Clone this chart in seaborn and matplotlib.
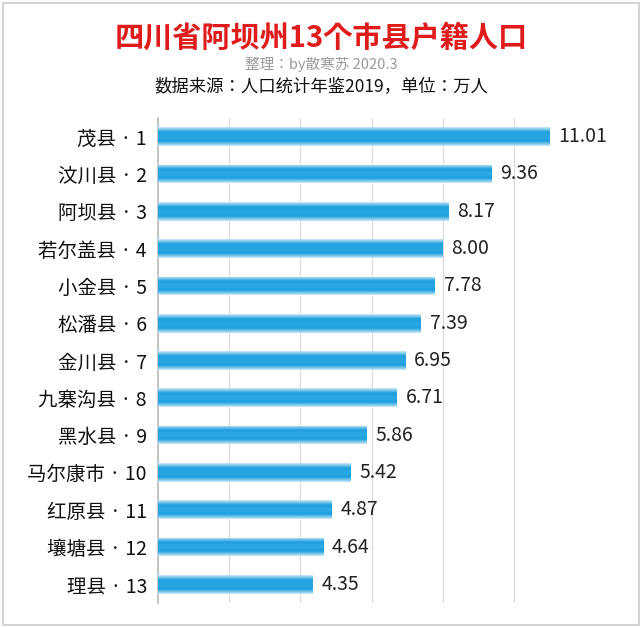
import matplotlib
matplotlib.use("Agg")
import matplotlib.pyplot as plt
from matplotlib import font_manager as fm
import seaborn as sns
import numpy as np
import pandas as pd
from matplotlib.colors import LinearSegmentedColormap

names = ["茂县 · 1","汶川县 · 2","阿坝县 · 3","若尔盖县 · 4","小金县 · 5","松潘县 · 6","金川县 · 7",
         "九寨沟县 · 8","黑水县 · 9","马尔康市 · 10","红原县 · 11","壤塘县 · 12","理县 · 13"]
values = [11.01,9.36,8.17,8.00,7.78,7.39,6.95,6.71,5.86,5.42,4.87,4.64,4.35]
labels = ["11.01","9.36","8.17","8.00","7.78","7.39","6.95","6.71","5.86","5.42","4.87","4.64","4.35"]

cjk = [f.name for f in fm.fontManager.ttflist if "CJK" in f.name]
pref = [n for n in ["Noto Sans CJK SC", "Noto Sans CJK JP"] if n in cjk] or cjk[:1]
sns.set_theme(style="white", rc={"font.family": pref + ["DejaVu Sans"]})
plt.rcParams["font.family"] = pref + ["DejaVu Sans"]

fig = plt.figure(figsize=(6.42, 6.28), dpi=100)
ax = fig.add_axes([158/642, 1-603/628, (585-158)/642, (603-118)/628])
df = pd.DataFrame({"name": names, "value": values})
sns.barplot(data=df, x="value", y="name", ax=ax, color="#2aa6df", width=0.5, orient="h")

cmap = LinearSegmentedColormap.from_list("g", ["#c8eaf9", "#1f9fdc", "#2aa9e2", "#1f9fdc", "#c8eaf9"])
grad = np.linspace(0, 1, 64).reshape(-1, 1)
for p in ax.patches:
    x0, y0 = p.get_x(), p.get_y()
    w, h = p.get_width(), p.get_height()
    im = ax.imshow(grad, cmap=cmap, aspect="auto", extent=[x0, x0 + w, y0 + h, y0], zorder=3)
    im.set_clip_path(p)
    p.set_facecolor("none")
    p.set_edgecolor("none")

ax.set_xlim(0, 12)
ax.set_ylim(12.5, -0.5)
ax.set_xticks(range(0, 13, 2))
ax.xaxis.grid(True, color="#d9d9d9", lw=0.8)
ax.set_axisbelow(True)
ax.tick_params(axis="x", length=0, labelbottom=False)
ax.tick_params(axis="y", length=0, labelsize=14, pad=8)
for t in ax.get_yticklabels():
    t.set_color("#111111")
ax.set_xlabel(""); ax.set_ylabel("")
for s in ["top", "right", "bottom"]:
    ax.spines[s].set_visible(False)
ax.spines["left"].set_color("#bfbfbf")
for i, (v, t) in enumerate(zip(values, labels)):
    ax.text(v + 0.25, i, t, va="center", ha="left", fontsize=14, color="#222222", zorder=4)

fig.text(0.5, 1-38/628, "四川省阿坝州13个市县户籍人口", ha="center", va="center",
         fontsize=21, fontweight="bold", color="#e01b1b")
fig.text(0.5, 1-64/628, "整理：by散寒苏 2020.3", ha="center", va="center", fontsize=10.5, color="#999999")
fig.text(0.5, 1-86/628, "数据来源：人口统计年鉴2019，单位：万人", ha="center", va="center", fontsize=12.5, color="#111111")
fig.patches.append(plt.Rectangle((0.004, 0.004), 0.992, 0.992, transform=fig.transFigure,
                                 fill=False, edgecolor="#cccccc", lw=1.2))
fig.savefig("out.png", dpi=100)
